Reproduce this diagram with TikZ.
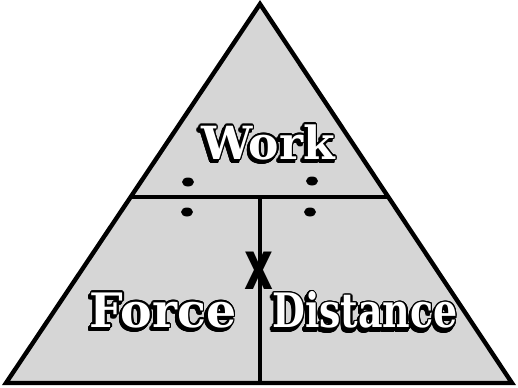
\documentclass[tikz,border=0pt]{standalone}
\usepackage{fontspec}
\usepackage{contour}
\usetikzlibrary{shapes.geometric}
\newfontfamily\cartoonfont{DejaVu Serif}
\newfontfamily\signfont{DejaVu Sans}
\contourlength{0.9pt}
\contournumber{16}
\definecolor{trifill}{RGB}{214,214,214}
\tikzset{
  edge/.style={line width=2.5pt, line join=miter, line cap=rect},
  word/.style={inner sep=0pt, font=\cartoonfont\bfseries},
  shadow/.style={word, text=black},
  sdot/.style={ellipse, fill=black, minimum width=0.24cm, minimum height=0.18cm, inner sep=0pt},
}
\newcommand{\wht}[1]{\contour{black}{\textcolor{white}{#1}}}
\newcommand{\blk}[1]{\contour{black}{\textcolor{black}{#1}}}
\begin{document}
\begin{tikzpicture}[x=0.02cm,y=-0.02cm]
\useasboundingbox (0,0) rectangle (518,387);
\coordinate (apex) at (260,4);
\coordinate (bl) at (6,383);
\coordinate (br) at (512,383);
\coordinate (hl) at (131,197);
\coordinate (hr) at (388,197);
\coordinate (vt) at (260,197);
\coordinate (vb) at (260,383);
\fill[trifill] (apex) -- (bl) -- (br) -- cycle;
\draw[edge] (hl) -- (hr);
\draw[edge] (vt) -- (vb);
\draw[edge] (apex) -- (bl) -- (br) -- cycle;
% division signs
\node[sdot] (dl1) at (188,182) {};
\node[sdot] (dl2) at (187,212) {};
\node[sdot] (dr1) at (312,181) {};
\node[sdot] (dr2) at (310,212) {};
% words: shadows
\node[shadow] (works) at (266,146) {\fontsize{26}{26}\selectfont\blk{Work}};
\node[shadow] (forces) at (161,314) {\fontsize{27}{27}\selectfont\blk{Force}};
\node[shadow] (dists) at (363,314) {\fontsize{27}{27}\selectfont\scalebox{0.8}[1]{\blk{Distance}}};
% words
\node[word] (work) at (268,143) {\fontsize{26}{26}\selectfont\wht{Work}};
\node[word] (force) at (163,311) {\fontsize{27}{27}\selectfont\wht{Force}};
\node[word] (dist) at (365,311) {\fontsize{27}{27}\selectfont\scalebox{0.8}[1]{\wht{Distance}}};
\node[inner sep=0pt, font=\signfont\bfseries] (times) at (259,271) {\fontsize{30}{30}\selectfont\scalebox{0.85}[1.3]{x}};
\end{tikzpicture}
\end{document}
